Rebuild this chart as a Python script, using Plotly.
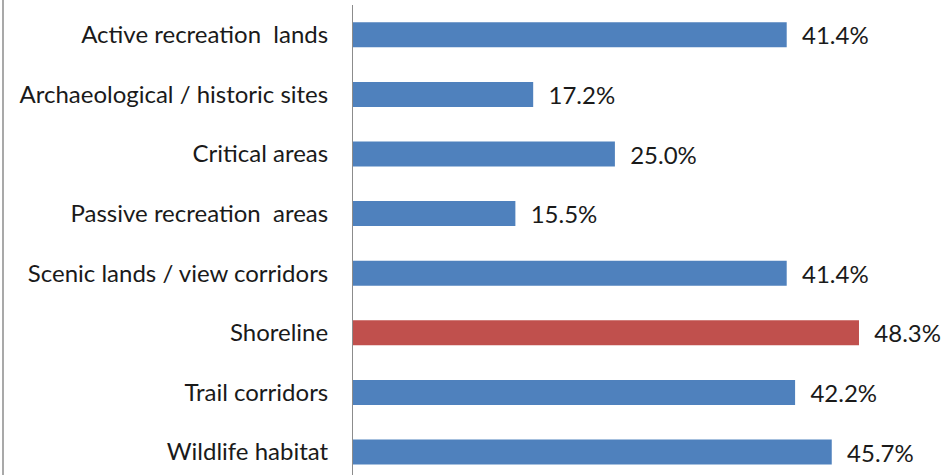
import plotly.graph_objects as go

categories = [
    "Active recreation  lands",
    "Archaeological / historic sites",
    "Critical areas",
    "Passive recreation  areas",
    "Scenic lands / view corridors",
    "Shoreline",
    "Trail corridors",
    "Wildlife habitat",
]
values = [41.4, 17.2, 25.0, 15.5, 41.4, 48.3, 42.2, 45.7]
highlight = "Shoreline"

colors = ["#C0504D" if c == highlight else "#4F81BD" for c in categories]
labels = ["  %.1f%%" % v for v in values]

FONT = "Lato"
FS = 24

fig = go.Figure(
    go.Bar(
        x=values,
        y=categories,
        orientation="h",
        marker=dict(color=colors, line=dict(width=0)),
        text=labels,
        textposition="outside",
        constraintext="none",
        textfont=dict(family=FONT, size=FS, color="#1a1a1a"),
        cliponaxis=False,
        width=0.42,
    )
)

W, H = 944, 475
left, top = 353, 5
plot_w = W - left
x_max = plot_w / 10.476
n_vis = (H - top) / 59.6

fig.update_layout(
    width=W,
    height=H,
    margin=dict(l=left, r=0, t=top, b=0, pad=0, autoexpand=False),
    paper_bgcolor="white",
    plot_bgcolor="white",
    showlegend=False,
    font=dict(family=FONT, size=FS, color="#1a1a1a"),
    xaxis=dict(range=[0, x_max], visible=False, fixedrange=True),
    yaxis=dict(
        type="category",
        range=[n_vis - 0.5, -0.5],
        automargin=False,
        showline=True,
        linecolor="#8c8c8c",
        linewidth=1,
        ticks="",
        showgrid=False,
        ticklabelstandoff=19,
        tickfont=dict(family=FONT, size=FS, color="#1a1a1a"),
    ),
    shapes=[
        dict(
            type="line",
            xref="paper",
            yref="paper",
            x0=-(left - 3) / plot_w,
            x1=-(left - 3) / plot_w,
            y0=0,
            y1=1.02,
            line=dict(color="#8c8c8c", width=1.5),
        )
    ],
)

fig.write_html(
    "out.html",
    config={"displayModeBar": False},
    post_script="document.body.style.margin='0';document.body.style.overflow='hidden';",
)
